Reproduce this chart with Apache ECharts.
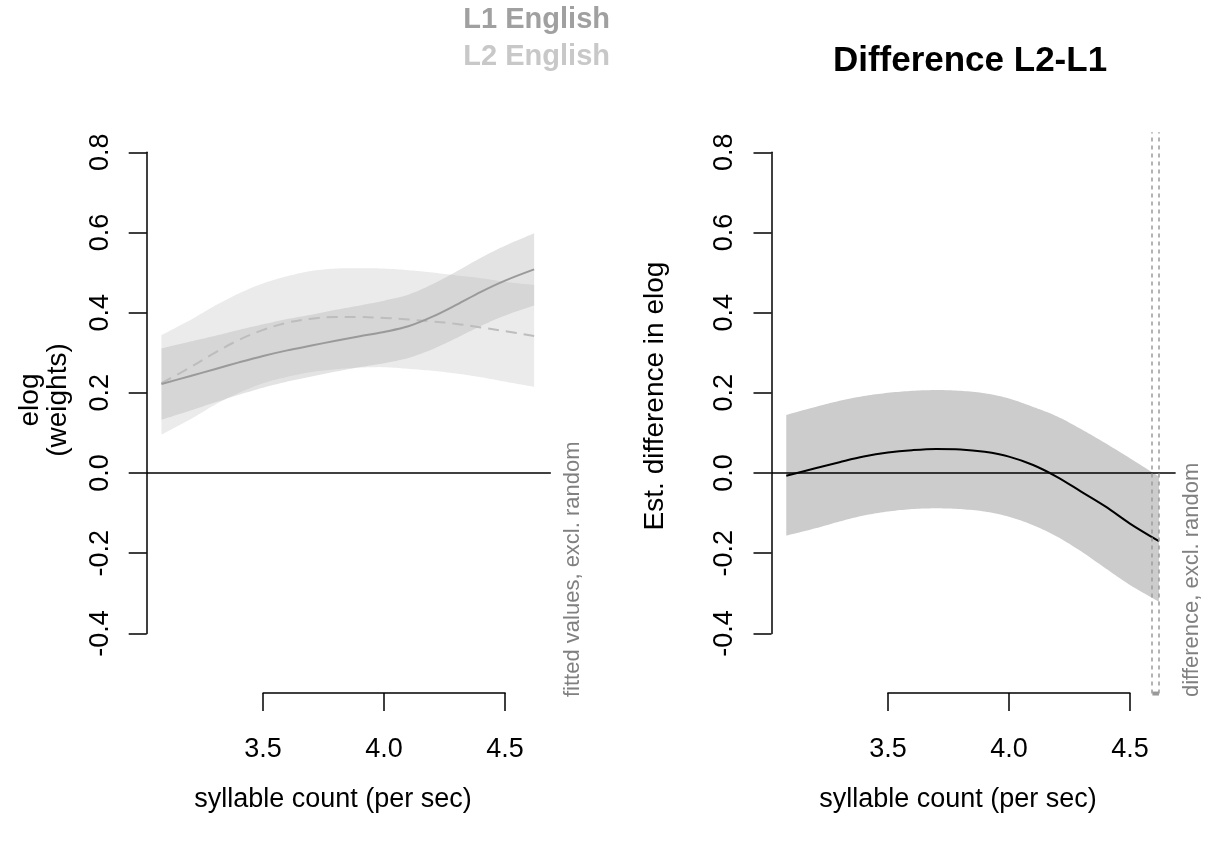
<!DOCTYPE html>
<html>
<head>
<meta charset="utf-8">
<script src="https://cdn.jsdelivr.net/npm/echarts@6/dist/echarts.min.js"></script>
<style>
html,body{margin:0;padding:0;background:#fff;}
#chart{width:1212px;height:841px;}
</style>
</head>
<body>
<div id="chart"></div>
<script>
// ---------- data ----------
const xs = [3.08, 3.2, 3.3, 3.4, 3.5, 3.6, 3.7, 3.8, 3.9, 4.0, 4.1, 4.2, 4.3, 4.4, 4.5, 4.62];

// L1 English (solid)
const l1Fit   = [0.222, 0.242, 0.259, 0.276, 0.292, 0.306, 0.318, 0.330, 0.341, 0.352, 0.366, 0.390, 0.420, 0.452, 0.480, 0.508];
const l1Upper = [0.311, 0.328, 0.342, 0.357, 0.371, 0.384, 0.395, 0.407, 0.418, 0.430, 0.445, 0.471, 0.503, 0.537, 0.567, 0.598];
const l1Lower = [0.133, 0.156, 0.176, 0.195, 0.213, 0.228, 0.241, 0.253, 0.264, 0.274, 0.287, 0.309, 0.337, 0.367, 0.393, 0.418];

// L2 English (dashed)
const l2Fit   = [0.224, 0.264, 0.300, 0.332, 0.357, 0.375, 0.385, 0.389, 0.389, 0.387, 0.383, 0.378, 0.372, 0.363, 0.354, 0.342];
const l2Upper = [0.344, 0.382, 0.417, 0.448, 0.473, 0.491, 0.504, 0.510, 0.511, 0.510, 0.506, 0.500, 0.493, 0.486, 0.477, 0.469];
const l2Lower = [0.096, 0.134, 0.170, 0.200, 0.224, 0.240, 0.252, 0.259, 0.263, 0.264, 0.260, 0.255, 0.248, 0.239, 0.228, 0.215];

// Difference L2-L1
const diffFit   = [-0.007, 0.012, 0.027, 0.041, 0.051, 0.057, 0.060, 0.059, 0.053, 0.041, 0.020, -0.010, -0.047, -0.084, -0.126, -0.170];
const diffUpper = [0.145, 0.165, 0.180, 0.192, 0.200, 0.205, 0.207, 0.205, 0.199, 0.186, 0.165, 0.141, 0.109, 0.074, 0.037, -0.009];
const diffLower = [-0.156, -0.138, -0.121, -0.106, -0.096, -0.090, -0.088, -0.090, -0.096, -0.109, -0.130, -0.159, -0.196, -0.238, -0.279, -0.321];

// region where the difference is significant
const sigRegion = [4.593, 4.62];

// axis ticks
const yTickMin = -0.4, yTickMax = 0.8, yTickStep = 0.2;
const xTickMin = 3.5, xTickMax = 4.5, xTickStep = 0.5;

// ---------- layout ----------
const PX = 242;                 // pixels per x unit
const YTOP = 152.3, YH = 481.1; // y axis -0.4..0.8
const XLIM = [3.019, 4.689];
const TALL = [-0.55, 0.85];
const TALLTOP = YTOP - 0.05 * YH / 1.2, TALLH = 1.4 * YH / 1.2;
const L_LEFT = 146.7, R_LEFT = 771.5;
const GW = (XLIM[1] - XLIM[0]) * PX;
const FONT = 'Liberation Sans, Arial, Helvetica, sans-serif';

function pos3(left) { return left + (3.5 - XLIM[0]) * PX; }

const fmt = v => (Math.abs(v) < 1e-9 ? 0 : v).toFixed(1);

// Catmull-Rom resampling in pixel space (for smooth band edges)
function smoothPts(P) {
  const out = [];
  const n = P.length;
  for (let i = 0; i < n - 1; i++) {
    const p0 = P[Math.max(i - 1, 0)], p1 = P[i], p2 = P[i + 1], p3 = P[Math.min(i + 2, n - 1)];
    const steps = 10;
    for (let s = 0; s < steps; s++) {
      const t = s / steps, t2 = t * t, t3 = t2 * t;
      const f = k => 0.5 * ((2 * p1[k]) + (-p0[k] + p2[k]) * t + (2 * p0[k] - 5 * p1[k] + 4 * p2[k] - p3[k]) * t2 + (-p0[k] + 3 * p1[k] - 3 * p2[k] + p3[k]) * t3);
      out.push([f(0), f(1)]);
    }
  }
  out.push(P[n - 1]);
  return out;
}

function bandSeries(xi, yi, lower, upper, color, z) {
  return {
    type: 'custom', xAxisIndex: xi, yAxisIndex: yi, silent: true, z: z,
    data: xs.map((x, i) => [x, lower[i], upper[i]]),
    encode: { x: 0, y: [1, 2] },
    renderItem: function (params, api) {
      if (params.dataIndex !== 0) return null;
      const up = smoothPts(xs.map((x, i) => api.coord([x, upper[i]])));
      const lo = smoothPts(xs.map((x, i) => api.coord([x, lower[i]]))).reverse();
      return { type: 'polygon', shape: { points: up.concat(lo) }, style: { fill: color } };
    }
  };
}

const yAxisShown = {
  type: 'value', min: yTickMin, max: yTickMax, interval: yTickStep,
  axisLine: { show: true, onZero: false, lineStyle: { color: '#000', width: 1.5 } },
  axisTick: { show: true, length: 18, lineStyle: { color: '#000', width: 1.5 } },
  axisLabel: { show: true, rotate: 90, margin: 33, fontSize: 27, color: '#000', fontFamily: FONT, formatter: fmt },
  splitLine: { show: false }
};
const xAxisShown = {
  type: 'value', min: xTickMin, max: xTickMax, interval: xTickStep, position: 'bottom',
  axisLine: { show: true, onZero: false, lineStyle: { color: '#000', width: 1.5 } },
  axisTick: { show: true, length: 18, lineStyle: { color: '#000', width: 1.5 } },
  axisLabel: { show: true, margin: 43, fontSize: 27, color: '#000', fontFamily: FONT, formatter: fmt },
  splitLine: { show: false }
};
const hiddenX = { type: 'value', show: false, min: XLIM[0], max: XLIM[1] };

const option = {
  animation: false,
  backgroundColor: '#fff',
  grid: [
    { left: L_LEFT, width: GW, top: YTOP, height: YH, outerBoundsMode: 'none', containLabel: false },
    { left: pos3(L_LEFT), width: (xTickMax - xTickMin) * PX, top: 692, height: 1, outerBoundsMode: 'none', containLabel: false },
    { left: R_LEFT, width: GW, top: YTOP, height: YH, outerBoundsMode: 'none', containLabel: false },
    { left: pos3(R_LEFT), width: (xTickMax - xTickMin) * PX, top: 692, height: 1, outerBoundsMode: 'none', containLabel: false },
    { left: R_LEFT, width: GW, top: TALLTOP, height: TALLH, outerBoundsMode: 'none', containLabel: false }
  ],
  xAxis: [
    Object.assign({ gridIndex: 0 }, hiddenX),
    Object.assign({ gridIndex: 1 }, xAxisShown),
    Object.assign({ gridIndex: 2 }, hiddenX),
    Object.assign({ gridIndex: 3 }, xAxisShown),
    Object.assign({ gridIndex: 4 }, hiddenX)
  ],
  yAxis: [
    Object.assign({ gridIndex: 0 }, yAxisShown),
    { gridIndex: 1, type: 'value', show: false, min: 0, max: 1 },
    Object.assign({ gridIndex: 2 }, yAxisShown),
    { gridIndex: 3, type: 'value', show: false, min: 0, max: 1 },
    { gridIndex: 4, type: 'value', show: false, min: TALL[0], max: TALL[1] }
  ],
  series: [
    // left panel
    bandSeries(0, 0, l2Lower, l2Upper, '#ebebeb', 1),
    bandSeries(0, 0, l1Lower, l1Upper, 'rgba(175,175,175,0.35)', 2),
    {
      type: 'line', xAxisIndex: 0, yAxisIndex: 0, z: 3, symbol: 'none', smooth: 0.35,
      data: xs.map((x, i) => [x, l2Fit[i]]),
      lineStyle: { color: '#bdbdbd', width: 2, type: [11, 7] },
      markLine: {
        silent: true, symbol: 'none', label: { show: false },
        lineStyle: { color: '#000', width: 1.5, type: 'solid' },
        data: [{ yAxis: 0 }]
      }
    },
    {
      type: 'line', xAxisIndex: 0, yAxisIndex: 0, z: 4, symbol: 'none', smooth: 0.35,
      data: xs.map((x, i) => [x, l1Fit[i]]),
      lineStyle: { color: '#9a9a9a', width: 2 }
    },
    // right panel
    bandSeries(2, 2, diffLower, diffUpper, '#cccccc', 1),
    {
      type: 'line', xAxisIndex: 2, yAxisIndex: 2, z: 4, symbol: 'none', smooth: 0.35,
      data: xs.map((x, i) => [x, diffFit[i]]),
      lineStyle: { color: '#000', width: 2 },
      markLine: {
        silent: true, symbol: 'none', label: { show: false },
        lineStyle: { color: '#000', width: 1.5, type: 'solid' },
        data: [{ yAxis: 0 }]
      }
    },
    {
      type: 'line', xAxisIndex: 4, yAxisIndex: 4, z: 5, symbol: 'none', clip: false,
      data: sigRegion.map(x => [x, TALL[0]]),
      lineStyle: { color: '#999', width: 4 },
      markLine: {
        silent: true, symbol: 'none', label: { show: false },
        lineStyle: { color: '#9a9a9a', width: 1.5, type: [4, 4] },
        data: sigRegion.map(x => ({ xAxis: x }))
      }
    }
  ],
  graphic: [
    { type: 'text', x: 610, y: 20, style: { text: 'L1 English', font: 'bold 29px ' + FONT, fill: '#a0a0a0', textAlign: 'right', textVerticalAlign: 'middle' } },
    { type: 'text', x: 610, y: 57, style: { text: 'L2 English', font: 'bold 29px ' + FONT, fill: '#c8c8c8', textAlign: 'right', textVerticalAlign: 'middle' } },
    { type: 'text', x: 970, y: 61, style: { text: 'Difference L2-L1', font: 'bold 35px ' + FONT, fill: '#000', textAlign: 'center', textVerticalAlign: 'middle' } },
    { type: 'text', x: 30, y: 400, rotation: Math.PI / 2, style: { text: 'elog', font: '28px ' + FONT, fill: '#000', textAlign: 'center', textVerticalAlign: 'middle' } },
    { type: 'text', x: 58, y: 400, rotation: Math.PI / 2, style: { text: '(weights)', font: '28px ' + FONT, fill: '#000', textAlign: 'center', textVerticalAlign: 'middle' } },
    { type: 'text', x: 655, y: 396, rotation: Math.PI / 2, style: { text: 'Est. difference in elog', font: '28px ' + FONT, fill: '#000', textAlign: 'center', textVerticalAlign: 'middle' } },
    { type: 'text', x: 333, y: 800, style: { text: 'syllable count (per sec)', font: '27px ' + FONT, fill: '#000', textAlign: 'center', textVerticalAlign: 'middle' } },
    { type: 'text', x: 958, y: 800, style: { text: 'syllable count (per sec)', font: '27px ' + FONT, fill: '#000', textAlign: 'center', textVerticalAlign: 'middle' } },
    { type: 'text', x: 573, y: 697, rotation: Math.PI / 2, style: { text: 'fitted values, excl. random', font: '22px ' + FONT, fill: '#808080', textAlign: 'left', textVerticalAlign: 'middle' } },
    { type: 'text', x: 1192, y: 697, rotation: Math.PI / 2, style: { text: 'difference, excl. random', font: '22px ' + FONT, fill: '#808080', textAlign: 'left', textVerticalAlign: 'middle' } }
  ]
};

const chart = echarts.init(document.getElementById('chart'), null, { renderer: 'canvas' });
chart.setOption(option);
</script>
</body>
</html>
